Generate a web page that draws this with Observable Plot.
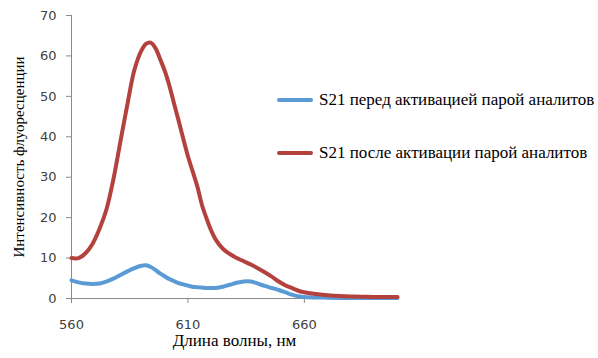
<!DOCTYPE html>
<html>
<head>
<meta charset="utf-8">
<script src="https://cdn.jsdelivr.net/npm/d3@7"></script>
<script src="https://cdn.jsdelivr.net/npm/@observablehq/plot@0.6"></script>
<style>
  body { margin: 0; background: #fff; }
  #wrap { position: relative; width: 598px; height: 358px; }
  #legend { position: absolute; left: 277px; top: 0; font-family: "Liberation Serif", "Times New Roman", "DejaVu Serif", serif; font-size: 17px; color: #000; }
  .item { position: absolute; left: 0; display: flex; align-items: center; white-space: nowrap; }
  .sw { width: 36px; height: 4px; margin-right: 6px; border-radius: 2px; }
</style>
</head>
<body>
<div id="wrap"><div id="legend"></div></div>
<script>
const wavelength = [560, 563, 566, 569, 572, 575, 578, 581, 584, 587, 590, 592, 594, 596, 598, 600, 602, 604, 606, 608, 610, 612, 614, 616, 618, 620, 622, 625, 628, 631, 634, 637, 640, 643, 646, 649, 652, 655, 658, 661, 665, 670, 675, 680, 685, 690, 695, 700];
const before = [4.5, 4.0, 3.7, 3.6, 3.7, 4.2, 4.9, 5.8, 6.7, 7.5, 8.1, 8.2, 7.8, 7.1, 6.2, 5.5, 4.8, 4.3, 3.8, 3.5, 3.2, 2.9, 2.8, 2.7, 2.6, 2.6, 2.6, 2.9, 3.4, 3.9, 4.2, 4.2, 3.7, 3.1, 2.6, 2.1, 1.5, 0.9, 0.5, 0.3, 0.25, 0.2, 0.15, 0.1, 0.1, 0.1, 0.1, 0.1];
const after = [10, 10, 11.2, 13.5, 17.2, 22, 29.5, 38.8, 48, 56.5, 61.3, 63, 63.3, 62, 59.3, 56.4, 52.7, 48.3, 44, 39.5, 35.2, 31.5, 27.8, 23.2, 19.8, 16.8, 14.5, 12.3, 11, 10, 9.2, 8.4, 7.5, 6.5, 5.4, 4.2, 3.2, 2.5, 1.8, 1.4, 1.1, 0.8, 0.6, 0.5, 0.45, 0.4, 0.4, 0.4];
const seriesNames = ["S21 перед активацией парой аналитов", "S21 после активации парой аналитов"];
const seriesColors = ["#5b9bd5", "#b3423e"];
const xTicks = [560, 610, 660];
const yTicks = [0, 10, 20, 30, 40, 50, 60, 70];
const xTitle = "Длина волны, нм";
const yTitle = "Интенсивность флуоресценции";

const rows = [];
[before, after].forEach((vals, i) => {
  vals.forEach((v, j) => rows.push({series: seriesNames[i], wavelength: wavelength[j], value: v}));
});

const axisGray = "#8a8a8a";
const tickFont = "DejaVu Sans, sans-serif";
const serif = "'Liberation Serif', 'Times New Roman', 'DejaVu Serif', serif";

const chart = Plot.plot({
  width: 598,
  height: 358,
  marginLeft: 71,
  marginRight: 201,
  marginTop: 15,
  marginBottom: 60,
  style: {background: "#fff"},
  x: {domain: [560, 700]},
  y: {domain: [0, 70]},
  color: {domain: seriesNames, range: seriesColors},
  marks: [
    Plot.axisX({ticks: xTicks, tickSize: 5, tickPadding: 16, label: null, stroke: axisGray, fill: "#404040", fontSize: 13, fontFamily: tickFont}),
    Plot.axisY({ticks: yTicks, tickSize: 5, tickPadding: 10, label: null, stroke: axisGray, fill: "#404040", fontSize: 13, fontFamily: tickFont}),
    Plot.ruleX([560], {stroke: axisGray}),
    Plot.ruleY([0], {stroke: axisGray}),
    Plot.line(rows, {x: "wavelength", y: "value", z: "series", stroke: "series", strokeWidth: 4, curve: "catmull-rom", strokeLinejoin: "round", strokeLinecap: "round"}),
    Plot.text([xTitle], {frameAnchor: "bottom", dy: 47, fontSize: 17, fontFamily: serif, fill: "#000"}),
    Plot.text([yTitle], {frameAnchor: "left", textAnchor: "middle", dx: -52, rotate: -90, fontSize: 15, fontFamily: serif, fill: "#000"})
  ]
});
document.getElementById("wrap").prepend(chart);

const legend = document.getElementById("legend");
const legendTops = [100, 153];
seriesNames.forEach((name, i) => {
  const item = document.createElement("div");
  item.className = "item";
  item.style.top = (legendTops[i] - 10) + "px";
  item.style.height = "20px";
  const sw = document.createElement("span");
  sw.className = "sw";
  sw.style.background = seriesColors[i];
  const t = document.createElement("span");
  t.textContent = name;
  item.appendChild(sw);
  item.appendChild(t);
  legend.appendChild(item);
});
</script>
</body>
</html>
